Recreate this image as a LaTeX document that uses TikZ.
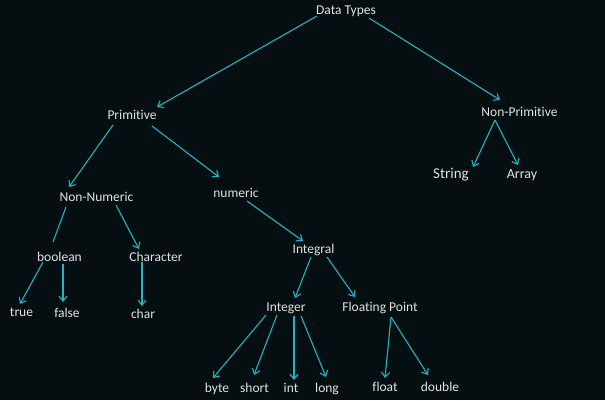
\documentclass[tikz,border=0pt]{standalone}
\usepackage{fontspec}
\setmainfont{Carlito}[Ligatures={NoCommon,NoContextual}]
\usetikzlibrary{arrows.meta}
\definecolor{bgcol}{RGB}{5,14,17}
\definecolor{linecol}{RGB}{32,180,196}
\definecolor{txtcol}{RGB}{226,226,226}
\tikzset{
  lbl/.style={text=txtcol, inner sep=0pt, text height=9pt, text depth=0pt,
    font=\fontsize{13.5}{16}\selectfont},
  biglbl/.style={lbl, font=\fontsize{15}{18}\selectfont},
  midlbl/.style={lbl, font=\fontsize{14}{17}\selectfont},
  conn/.style={draw=linecol, line width=1.1pt},
  arr/.style={conn, -{Straight Barb[length=5pt,width=8pt,line width=1.1pt]}}
}
\begin{document}
\begin{tikzpicture}[x=1pt,y=-1pt]
\fill[bgcol] (0,0) rectangle (605,400);
\useasboundingbox (0,0) rectangle (605,400);
% nodes
\node[lbl] (dt) at (346,10) {Data Types};
\node[lbl] (prim) at (132,115) {Primitive};
\node[lbl] (nonp) at (519.5,112) {Non-Primitive};
\node[biglbl] (str) at (451,174) {String};
\node[midlbl] (arr) at (522,174) {Array};
\node[lbl] (nonnum) at (96.5,197) {Non-Numeric};
\node[lbl] (num) at (236,193) {numeric};
\node[lbl] (bool) at (59.5,257) {boolean};
\node[lbl] (charac) at (156,257) {Character};
\node[lbl] (true) at (21.5,312) {true};
\node[lbl] (false) at (67,313) {false};
\node[lbl] (chr) at (143,314) {char};
\node[lbl] (integral) at (313.5,249) {Integral};
\node[lbl] (integer) at (286,307) {Integer};
\node[lbl] (fp) at (380,307) {Floating Point};
\node[lbl] (byte) at (217,388) {byte};
\node[lbl] (short) at (254.5,388) {short};
\node[lbl] (int) at (291,388) {int};
\node[lbl] (long) at (327,388) {long};
\node[lbl] (float) at (385,387) {float};
\node[lbl] (double) at (440,387) {double};
% connectors
\draw[arr] ([shift={(-29,6)}]dt.center) -- ([shift={(25,-8)}]prim.center);
\draw[arr] ([shift={(23,8)}]dt.center) -- ([shift={(-19.5,-12)}]nonp.center);
\draw[arr] ([shift={(-19,10)}]prim.center) -- ([shift={(-27.5,-10)}]nonnum.center);
\draw[arr] ([shift={(20,11)}]prim.center) -- ([shift={(-17,-16)}]num.center);
\draw[arr] ([shift={(-24.5,8)}]nonp.center) -- ([shift={(22,-7)}]str.center);
\draw[arr] ([shift={(-24.5,8)}]nonp.center) -- ([shift={(-4,-9)}]arr.center);
\draw[conn] ([shift={(-30.5,10)}]nonnum.center) -- ([shift={(-6.5,-15)}]bool.center);
\draw[arr] ([shift={(19.5,8)}]nonnum.center) -- ([shift={(-17,-8)}]charac.center);
\draw[arr] ([shift={(-16.5,5)}]bool.center) -- ([shift={(-1.5,-8)}]true.center);
\draw[arr] ([shift={(3.5,7)}]bool.center) -- ([shift={(-4,-11)}]false.center);
\draw[arr] ([shift={(-14,5)}]charac.center) -- ([shift={(-1,-8)}]chr.center);
\draw[arr] ([shift={(11,8)}]num.center) -- ([shift={(-10.5,-8)}]integral.center);
\draw[arr] ([shift={(-2.5,8)}]integral.center) -- ([shift={(9,-9)}]integer.center);
\draw[arr] ([shift={(13.5,8)}]integral.center) -- ([shift={(-25,-10)}]fp.center);
\draw[arr] ([shift={(-20,8)}]integer.center) -- ([shift={(-4,-10)}]byte.center);
\draw[arr] ([shift={(-9,8)}]integer.center) -- ([shift={(-0.5,-13)}]short.center);
\draw[arr] ([shift={(8,9)}]integer.center) -- ([shift={(3,-8)}]int.center);
\draw[arr] ([shift={(15,9)}]integer.center) -- ([shift={(-1,-11)}]long.center);
\draw[arr] ([shift={(11,10)}]fp.center) -- ([shift={(0,-9)}]float.center);
\draw[arr] ([shift={(11,10)}]fp.center) -- ([shift={(-12,-12)}]double.center);
\end{tikzpicture}
\end{document}
